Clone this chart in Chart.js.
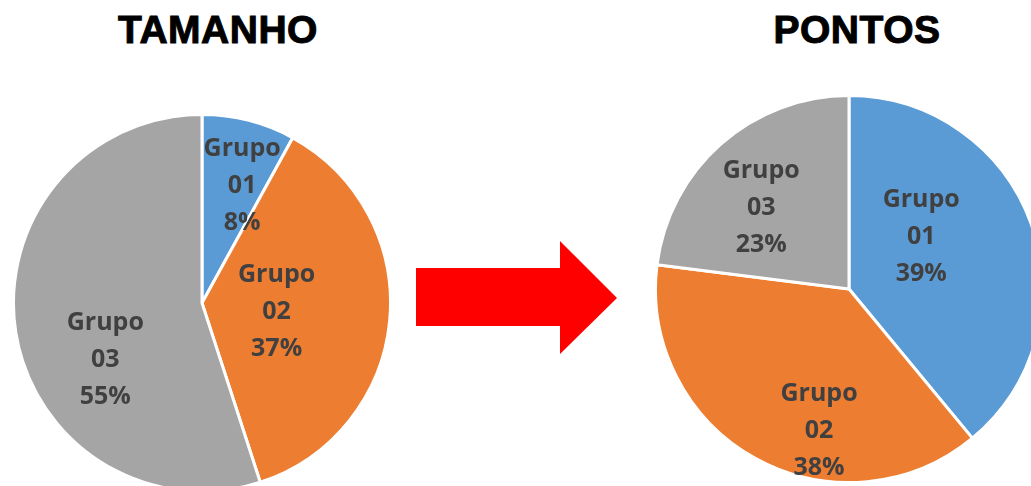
<!DOCTYPE html>
<html>
<head>
<meta charset="utf-8">
<script src="https://cdn.jsdelivr.net/npm/chart.js@4/dist/chart.umd.min.js"></script>
<style>
    html, body { margin: 0; padding: 0; background: #fff; overflow: hidden; }
    body { width: 1031px; height: 486px; position: relative; }
    .title {
        position: absolute; top: 8px; width: 300px; text-align: center;
        font-family: 'Liberation Sans', Arial, sans-serif; font-weight: bold;
        font-size: 39px; color: #000; -webkit-text-stroke: 1px #000; letter-spacing: 0.5px;
    }
    .pie-box { position: absolute; }
    #arrow { position: absolute; left: 0; top: 0; }
</style>
</head>
<body>
<div class="title" style="left: 68px;">TAMANHO</div>
<div class="title" style="left: 707px;">PONTOS</div>

<div class="pie-box" style="left: 12px; top: 113px; width: 380px; height: 380px;">
    <canvas id="pieTamanho"></canvas>
</div>
<div class="pie-box" style="left: 654px; top: 94px; width: 390px; height: 390px;">
    <canvas id="piePontos"></canvas>
</div>

<svg id="arrow" width="1031" height="486">
    <polygon points="416,268 560,268 560,241 617,298 560,354 560,326 416,326" fill="#ff0000"/>
</svg>

<script>
// Data
const grupos = ['Grupo 01', 'Grupo 02', 'Grupo 03'];
const tamanho = [8, 37, 55];
const pontos = [39, 38, 23];
const cores = ['#5b9bd5', '#ed7d31', '#a5a5a5'];

// Draws "Grupo / 01 / 8%" inside each slice, Excel style
const sliceLabels = {
    id: 'sliceLabels',
    afterDatasetsDraw(chart, args, opts) {
        const ctx = chart.ctx;
        const ds = chart.data.datasets[0];
        const total = ds.data.reduce((a, b) => a + b, 0);
        const meta = chart.getDatasetMeta(0);
        ctx.save();
        ctx.font = "bold 25px 'Open Sans', sans-serif";
        ctx.fillStyle = '#404040';
        ctx.textAlign = 'center';
        ctx.textBaseline = 'middle';
        meta.data.forEach((arc, i) => {
            const mid = (arc.startAngle + arc.endAngle) / 2;
            const r = arc.outerRadius * 0.6;
            const nudge = opts.nudges[i] || [0, 0];
            const x = arc.x + Math.cos(mid) * r + nudge[0];
            const y = arc.y + Math.sin(mid) * r + nudge[1];
            const [word, num] = chart.data.labels[i].split(' ');
            const pct = Math.round(ds.data[i] / total * 100) + '%';
            [word, num, pct].forEach((line, k) => {
                ctx.fillText(line, x, y + (k - 1) * 37);
            });
        });
        ctx.restore();
    }
};

function makePie(id, values, nudges) {
    const ctx = document.getElementById(id).getContext('2d');
    return new Chart(ctx, {
        type: 'pie',
        data: {
            labels: grupos,
            datasets: [{
                data: values,
                backgroundColor: cores,
                borderColor: '#ffffff',
                borderWidth: 3
            }]
        },
        options: {
            responsive: true,
            maintainAspectRatio: false,
            animation: false,
            layout: { padding: 0 },
            plugins: {
                legend: { display: false },
                tooltip: { enabled: false },
                sliceLabels: { nudges: nudges }
            }
        },
        plugins: [sliceLabels]
    });
}

makePie('pieTamanho', tamanho, [[12, -8], [-38, -2], [15, 39]]);
makePie('piePontos', pontos, [[-37, -13], [26, 40], [-11, 6]]);
</script>
</body>
</html>
